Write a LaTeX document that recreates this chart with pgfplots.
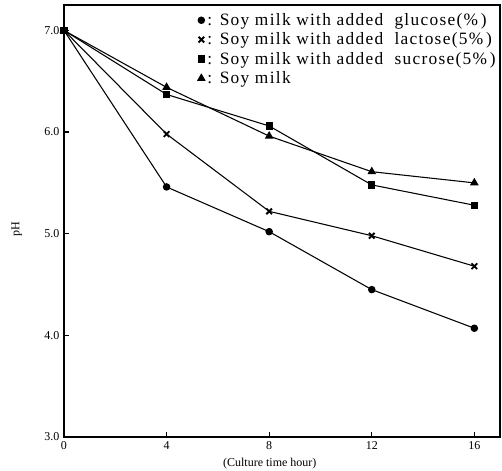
\documentclass[border=0pt]{standalone}
\usepackage{fontspec}
\setmainfont{Liberation Serif}
\usepackage{pgfplots}
\pgfplotsset{compat=1.18}
\begin{document}
\begin{tikzpicture}[x=1pt,y=1pt]
\begin{axis}[
  at={(0,0)}, anchor=south west,
  scale only axis, width=327pt, height=324pt,
  xmin=0, xmax=17, ymin=3, ymax=7.25,
  axis line style={line width=0.9pt},
  tick align=inside, major tick length=4pt,
  major tick style={line width=0.9pt, black},
  xtick={0,4,8,12,16}, ytick={3,4,5,6,7},
  xtick pos=bottom, ytick pos=left,
  yticklabel style={/pgf/number format/.cd,fixed,fixed zerofill,precision=1},
  tick label style={font=\fontsize{9}{10}\selectfont},
  /pgf/number format/assume math mode=true,
  xlabel={(Culture time hour)},
  ylabel={pH},
  xlabel style={at={(axis description cs:0.472,0)}, anchor=north, yshift=-12pt, font=\fontsize{9}{10}\selectfont},
  ylabel style={at={(axis description cs:0,0.48)}, anchor=south, yshift=28pt, font=\fontsize{9}{10}\selectfont},
  legend style={at={(1,1)}, anchor=north east, yshift=-3pt, draw=none, fill=none,
    font=\fontsize{13}{14}\selectfont\addfontfeature{LetterSpace=7.5}, row sep=0pt, inner sep=1pt},
  legend cell align=left,
  legend image code/.code={\draw[#1, only marks] plot coordinates {(0.12cm,0cm)};},
]
\addplot[black, line width=0.8pt, mark=*, mark size=2.4pt, mark options={fill=black}] coordinates {(0,7.0) (4,5.46) (8,5.02) (12,4.45) (16,4.07)};
\addplot[black, line width=0.8pt, mark=x, mark size=3pt, mark options={line width=1.4pt}] coordinates {(0,7.0) (4,5.98) (8,5.22) (12,4.98) (16,4.68)};
\addplot[black, line width=0.8pt, mark=square*, mark size=2.3pt, mark options={fill=black}] coordinates {(0,7.0) (4,6.37) (8,6.06) (12,5.48) (16,5.28)};
\addplot[black, line width=0.8pt, mark=triangle*, mark size=3pt, mark options={fill=black}] coordinates {(0,7.0) (4,6.44) (8,5.96) (12,5.61) (16,5.50)};
\legend{{: Soy milk with added\ \ glucose(\%\,)}, {: Soy milk with added\ \ lactose(5\%\,)}, {: Soy milk with added\ \ sucrose(5\%\,)}, {: Soy milk}}
\end{axis}
\pgfresetboundingbox
\path (-48pt,-24.75pt) rectangle (328.5pt,327.75pt);
\end{tikzpicture}
\end{document}
